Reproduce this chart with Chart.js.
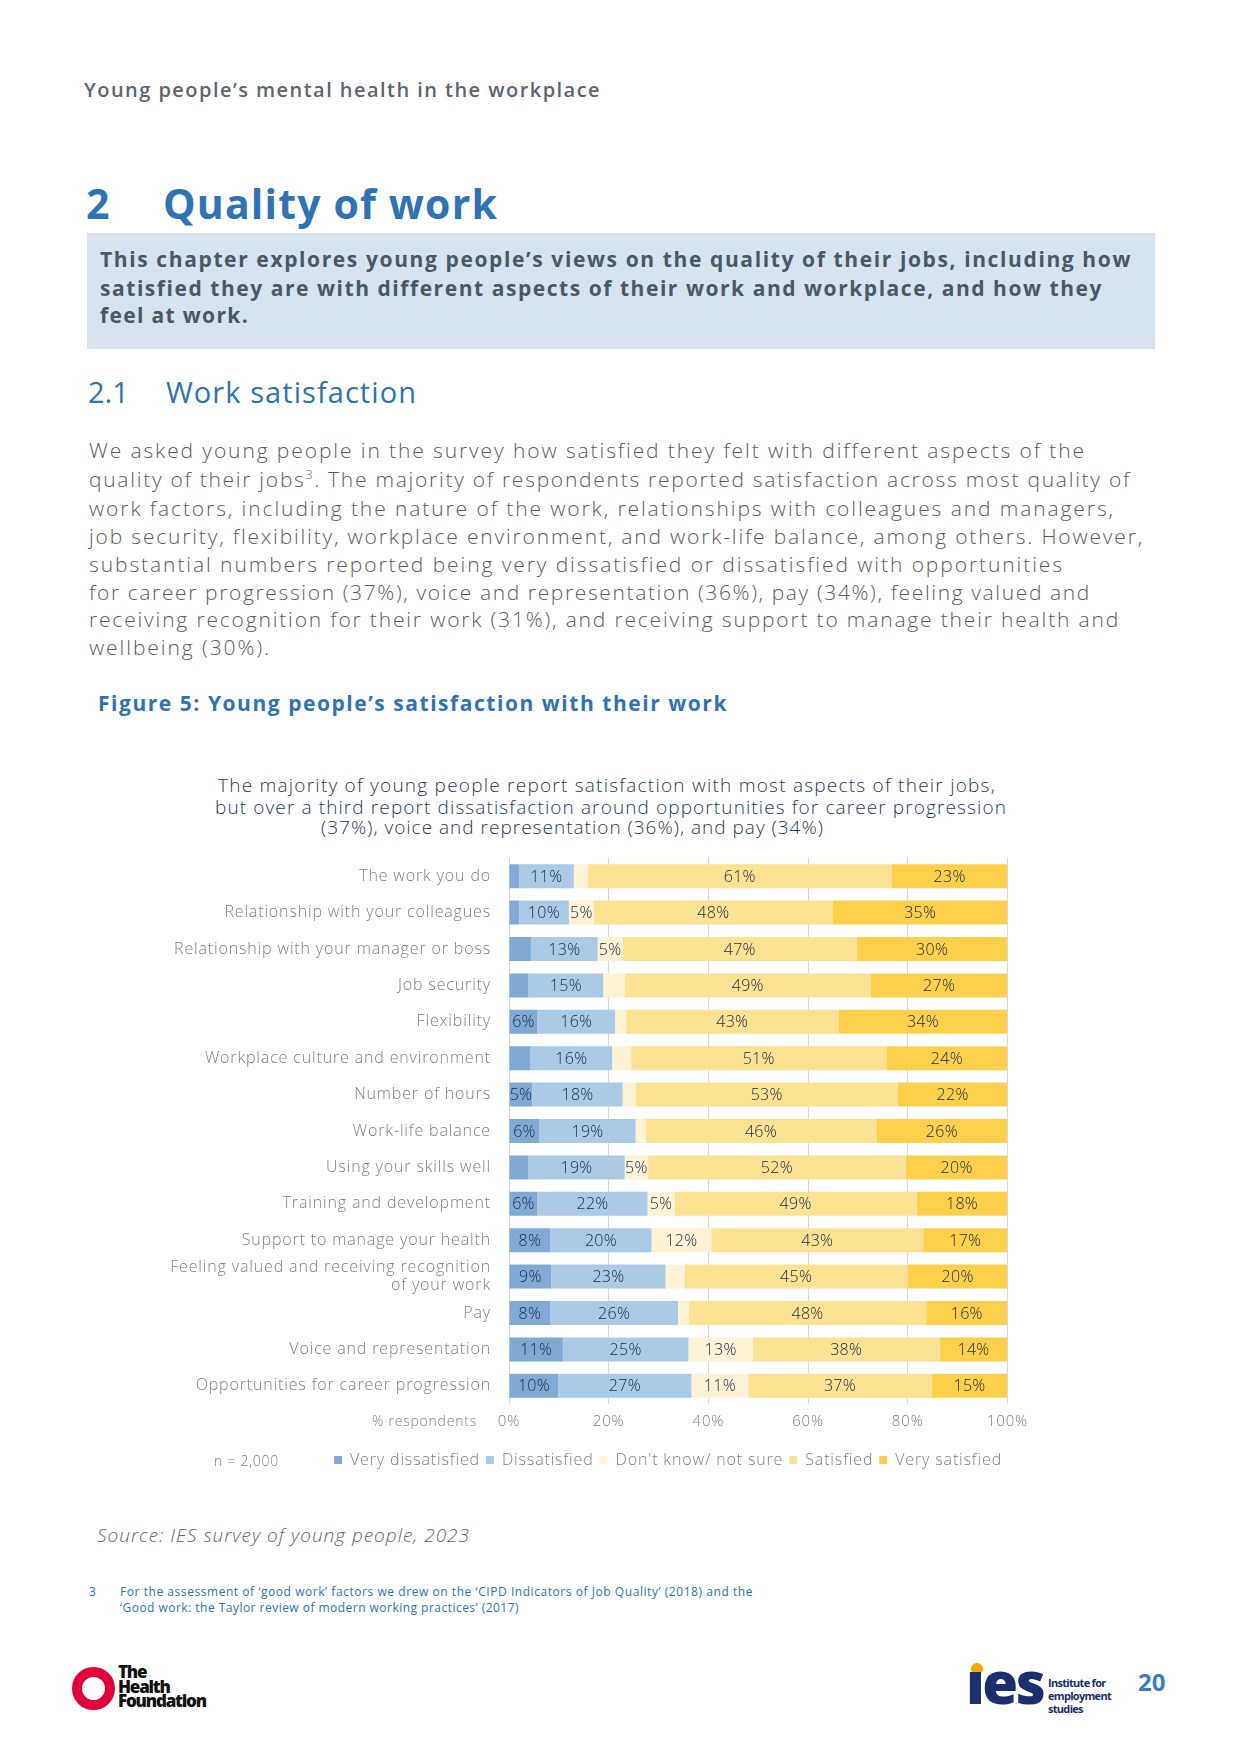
<!DOCTYPE html>
<html>
<head>
<meta charset="utf-8">
<script src="https://cdn.jsdelivr.net/npm/chart.js@4.4.0/dist/chart.umd.min.js"></script>
<style>
  body { margin: 0; background: #fff; }
  #page { position: relative; width: 1241px; height: 1754px; overflow: hidden; font-family: 'Open Sans', sans-serif; }
  .t { position: absolute; white-space: nowrap; }
  .blue { color: #2e74b5; }
  .para { font-size: 21px; font-weight: 300; color: #5c5c5c; line-height: 28px; }
  .box { position: absolute; left: 87px; top: 233px; width: 1068px; height: 116px; background: #d7e3ee; }
  .boxt { font-size: 21px; font-weight: 700; color: #4a5866; line-height: 28px; }
  .ctitle { font-size: 19px; font-weight: 300; color: #1f3b5c; line-height: 21px; }
  #chartWrap { position: absolute; left: 137px; top: 845px; width: 900px; height: 640px; }
</style>
</head>
<body>
<div id="page">
  <div class="t" data-w="517" style="left:84px;top:78px;font-size:20px;font-weight:600;color:#5b6770;line-height:24px;">Young people’s mental health in the workplace</div>

  <div class="t blue" style="left:86px;top:179px;font-size:41px;font-weight:700;line-height:48px;">2</div>
  <div class="t blue" data-w="335" style="left:163px;top:179px;font-size:41px;font-weight:700;line-height:48px;">Quality of work</div>

  <div class="box"></div>
  <div class="t boxt" data-w="1032" style="left:100px;top:245px;">This chapter explores young people’s views on the quality of their jobs, including how</div>
  <div class="t boxt" data-w="1003" style="left:100px;top:274px;">satisfied they are with different aspects of their work and workplace, and how they</div>
  <div class="t boxt" data-w="149" style="left:100px;top:301px;">feel at work.</div>

  <div class="t blue" style="left:88px;top:374px;font-size:29px;font-weight:400;line-height:36px;">2.1</div>
  <div class="t blue" data-w="251" style="left:166px;top:374px;font-size:29px;font-weight:400;line-height:36px;">Work satisfaction</div>

  <div class="t para" data-w="997" style="left:89px;top:436px;">We asked young people in the survey how satisfied they felt with different aspects of the</div>
  <div class="t para" data-w="1042" style="left:89px;top:465px;">quality of their jobs<sup style="font-size:12px;line-height:0;">3</sup>. The majority of respondents reported satisfaction across most quality of</div>
  <div class="t para" data-w="1026" style="left:89px;top:494px;">work factors, including the nature of the work, relationships with colleagues and managers,</div>
  <div class="t para" data-w="1055" style="left:89px;top:522px;">job security, flexibility, workplace environment, and work-life balance, among others. However,</div>
  <div class="t para" data-w="975" style="left:89px;top:550px;">substantial numbers reported being very dissatisfied or dissatisfied with opportunities</div>
  <div class="t para" data-w="1002" style="left:89px;top:578px;">for career progression (37%), voice and representation (36%), pay (34%), feeling valued and</div>
  <div class="t para" data-w="1031" style="left:89px;top:605px;">receiving recognition for their work (31%), and receiving support to manage their health and</div>
  <div class="t para" data-w="182" style="left:89px;top:633px;">wellbeing (30%).</div>

  <div class="t blue" data-w="630" style="left:98px;top:690px;font-size:21px;font-weight:700;line-height:26px;">Figure 5: Young people’s satisfaction with their work</div>

  <div class="t ctitle" data-w="778" style="left:218px;top:775px;">The majority of young people report satisfaction with most aspects of their jobs,</div>
  <div class="t ctitle" data-w="792" style="left:215px;top:797px;">but over a third report dissatisfaction around opportunities for career progression</div>
  <div class="t ctitle" data-w="503" style="left:321px;top:817px;">(37%), voice and representation (36%), and pay (34%)</div>

  <div id="chartWrap"><canvas id="chart"></canvas></div>

  <div class="t" data-w="105" style="left:372px;top:1412px;font-size:14px;font-weight:300;color:#7f7f7f;line-height:18px;">% respondents</div>
  <div class="t" data-w="65" style="left:214px;top:1452px;font-size:14px;font-weight:300;color:#7f7f7f;line-height:18px;">n = 2,000</div>

  <div class="t" data-w="373" style="left:97px;top:1523px;font-size:19px;font-weight:300;font-style:italic;color:#666;line-height:24px;">Source: IES survey of young people, 2023</div>

  <div class="t blue" style="left:89px;top:1584px;font-size:12px;font-weight:400;line-height:16px;">3</div>
  <div class="t blue" data-w="633" style="left:120px;top:1584px;font-size:12px;font-weight:400;line-height:16px;">For the assessment of ‘good work’ factors we drew on the ‘CIPD Indicators of Job Quality’ (2018) and the</div>
  <div class="t blue" data-w="399" style="left:120px;top:1600px;font-size:12px;font-weight:400;line-height:16px;">‘Good work: the Taylor review of modern working practices’ (2017)</div>

  <!-- footer logos -->
  <div style="position:absolute;left:72px;top:1667px;width:23px;height:23px;border:10px solid #e4003b;border-radius:50%;"></div>
  <div class="t" style="left:118px;top:1665px;font-size:17px;font-weight:800;color:#111;line-height:14.5px;letter-spacing:-1.2px;">The<br>Health<br>Foundation</div>

  <div style="position:absolute;left:971px;top:1663px;width:12px;height:12px;border-radius:50%;background:#f5a800;"></div>
  <div class="t" style="left:966px;top:1650px;font-size:58px;font-weight:800;color:#1d2e6e;line-height:64px;letter-spacing:-2.5px;">ıes</div>
  <div class="t" style="left:1048px;top:1676px;font-size:11px;font-weight:700;color:#1d2e6e;line-height:13px;letter-spacing:-0.7px;">Institute for<br>employment<br>studies</div>

  <div class="t" style="left:1138px;top:1668px;font-size:24px;font-weight:700;color:#3a7dc0;line-height:28px;">20</div>
</div>

<script>
// categories and series (percent of respondents)
const categories = [
  'The work you do',
  'Relationship with your colleagues',
  'Relationship with your manager or boss',
  'Job security',
  'Flexibility',
  'Workplace culture and environment',
  'Number of hours',
  'Work-life balance',
  'Using your skills well',
  'Training and development',
  'Support to manage your health',
  ['Feeling valued and receiving recognition', 'of your work'],
  'Pay',
  'Voice and representation',
  'Opportunities for career progression'
];
const seriesNames = ['Very dissatisfied', 'Dissatisfied', 'Don\'t know/ not sure', 'Satisfied', 'Very satisfied'];
const veryDissatisfied = [2.0, 2.0, 4.4, 3.9, 5.7, 4.3, 4.7, 6.1, 3.9, 5.7, 8.3, 8.5, 8.3, 10.8, 9.9];
const dissatisfied     = [11.0, 10.0, 13.4, 15.0, 15.6, 16.4, 18.1, 19.3, 19.3, 22.1, 20.3, 22.9, 25.6, 25.2, 26.7];
const dontKnow         = [2.8, 5.0, 5.0, 4.3, 2.2, 3.8, 2.6, 2.0, 4.7, 5.4, 12.0, 3.8, 2.2, 12.9, 11.4];
const satisfied        = [61.0, 48.0, 47.0, 49.4, 42.6, 51.2, 52.6, 46.3, 51.7, 48.6, 42.5, 44.8, 47.6, 37.5, 36.8];
const verySatisfied    = [23.2, 35.0, 30.2, 27.4, 33.9, 24.3, 22.0, 26.3, 20.4, 18.2, 16.9, 20.0, 16.3, 13.6, 15.2];
const xTicks = [0, 20, 40, 60, 80, 100];

const colors = ['#7eaad3', '#aacae6', '#fff3d6', '#fde293', '#fdd04c'];
const values = [veryDissatisfied, dissatisfied, dontKnow, satisfied, verySatisfied];

// stretch each text line to the width it has in the original page
function fitLines() {
  document.querySelectorAll('[data-w]').forEach(el => {
    el.style.letterSpacing = '0px';
    const w = el.getBoundingClientRect().width;
    const n = el.textContent.length;
    el.style.letterSpacing = ((+el.dataset.w - w) / n) + 'px';
  });
}
fitLines();

// the original uses a wide font, so space the canvas text out a little
const wideText = {
  id: 'wideText',
  beforeLayout(chart) { chart.ctx.letterSpacing = '0.85px'; },
  beforeDraw(chart) { chart.ctx.letterSpacing = '0.85px'; }
};

// percent labels in the middle of each segment (hidden below 5%)
const barLabels = {
  id: 'barLabels',
  afterDatasetsDraw(chart) {
    const ctx = chart.ctx;
    ctx.save();
    ctx.letterSpacing = '0.3px';
    ctx.font = "300 16px 'Open Sans', sans-serif";
    ctx.fillStyle = '#1b2a4c';
    ctx.textAlign = 'center';
    ctx.textBaseline = 'middle';
    chart.data.datasets.forEach((ds, i) => {
      chart.getDatasetMeta(i).data.forEach((bar, j) => {
        const v = Math.round(ds.data[j]);
        if (v < 5) return;
        ctx.fillText(v + '%', (bar.x + bar.base) / 2, bar.y + 1);
      });
    });
    ctx.restore();
  }
};

Chart.defaults.font.family = "'Open Sans', sans-serif";

const chart = new Chart(document.getElementById('chart'), {
  type: 'bar',
  data: {
    labels: categories,
    datasets: values.map((d, i) => ({
      label: seriesNames[i],
      data: d,
      backgroundColor: colors[i],
      borderWidth: 0,
      barPercentage: 0.66,
      categoryPercentage: 1
    }))
  },
  options: {
    indexAxis: 'y',
    responsive: true,
    maintainAspectRatio: false,
    animation: false,
    layout: { padding: { top: 13, right: 29, bottom: 7, left: 0 } },
    scales: {
      x: {
        stacked: true,
        min: 0,
        max: 100,
        afterBuildTicks: s => { s.ticks = xTicks.map(v => ({ value: v })); },
        afterFit: s => { s.height = 42; },
        grid: { color: '#d9d9d9', drawTicks: false },
        border: { display: false },
        ticks: {
          padding: 9,
          color: '#7f7f7f',
          font: { size: 15, weight: 300 },
          callback: v => v + '%'
        }
      },
      y: {
        stacked: true,
        afterFit: s => { s.width = 372; s.paddingTop = 0; s.paddingBottom = 0; },
        grid: { display: false, drawTicks: false },
        border: { display: false },
        ticks: {
          autoSkip: false,
          padding: 18,
          color: '#808080',
          font: { size: 16, weight: 300, lineHeight: 1.1 }
        }
      }
    },
    plugins: {
      legend: {
        position: 'bottom',
        align: 'end',
        labels: {
          boxWidth: 8,
          boxHeight: 8,
          padding: 6,
          color: '#7f7f7f',
          font: { size: 16, weight: 300 }
        }
      },
      tooltip: { enabled: false },
      title: { display: false }
    }
  },
  plugins: [wideText, barLabels]
});
</script>
</body>
</html>
